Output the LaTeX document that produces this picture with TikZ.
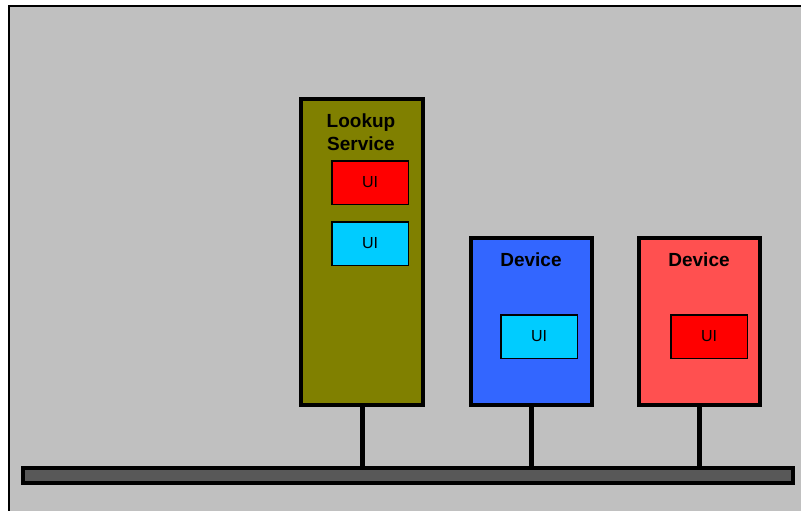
\documentclass[tikz,border=0pt]{standalone}
\usepackage{fontspec}
\setmainfont{Liberation Sans}
\definecolor{bg}{HTML}{C0C0C0}
\definecolor{olivebox}{HTML}{808000}
\definecolor{bluebox}{HTML}{3366FF}
\definecolor{salmonbox}{HTML}{FF5050}
\definecolor{uired}{HTML}{FF0000}
\definecolor{uicyan}{HTML}{00CCFF}
\definecolor{busgray}{HTML}{585858}
\begin{document}
\begin{tikzpicture}[x=1pt,y=-1pt,
  bigbox/.style={draw=black,line width=4pt,rectangle,inner sep=0pt,anchor=north west},
  uibox/.style={draw=black,line width=1.5pt,rectangle,inner sep=0pt,anchor=north west,
    minimum width=76.5pt,minimum height=43.5pt,font=\fontsize{16}{18}\selectfont},
  title/.style={anchor=base,inner sep=0pt,font=\fontsize{19}{22}\selectfont\bfseries},
  stem/.style={line width=5pt}]
\useasboundingbox (0,0) rectangle (801,511);
\fill[white] (0,0) rectangle (801,511);
\fill[bg] (9,6) rectangle (801,511);
\draw[line width=2pt] (9,511) -- (9,6) -- (801,6);
% bus
\node[bigbox,fill=busgray,minimum width=770pt,minimum height=15pt] (bus) at (21,466) {};
% lookup service
\node[bigbox,fill=olivebox,minimum width=122pt,minimum height=306pt] (lookup) at (299,97) {};
\node[title] (lt1) at (361,127) {Lookup};
\node[title] (lt2) at (361,150) {Service};
\node[uibox,fill=uired] (lui1) at (331,160) {UI};
\node[uibox,fill=uicyan] (lui2) at (331,221) {UI};
% device blue
\node[bigbox,fill=bluebox,minimum width=121pt,minimum height=167pt] (dev1) at (469,236) {};
\node[title] (d1t) at (531,266.5) {Device};
\node[uibox,fill=uicyan] (d1ui) at (500,314) {UI};
% device red
\node[bigbox,fill=salmonbox,minimum width=121pt,minimum height=167pt] (dev2) at (637,236) {};
\node[title] (d2t) at (699,266.5) {Device};
\node[uibox,fill=uired] (d2ui) at (670,314) {UI};
% stems
\draw[stem] (lookup.south) -- (lookup.south |- bus.north);
\draw[stem] (dev1.south) -- (dev1.south |- bus.north);
\draw[stem] (dev2.south) -- (dev2.south |- bus.north);
\end{tikzpicture}
\end{document}
